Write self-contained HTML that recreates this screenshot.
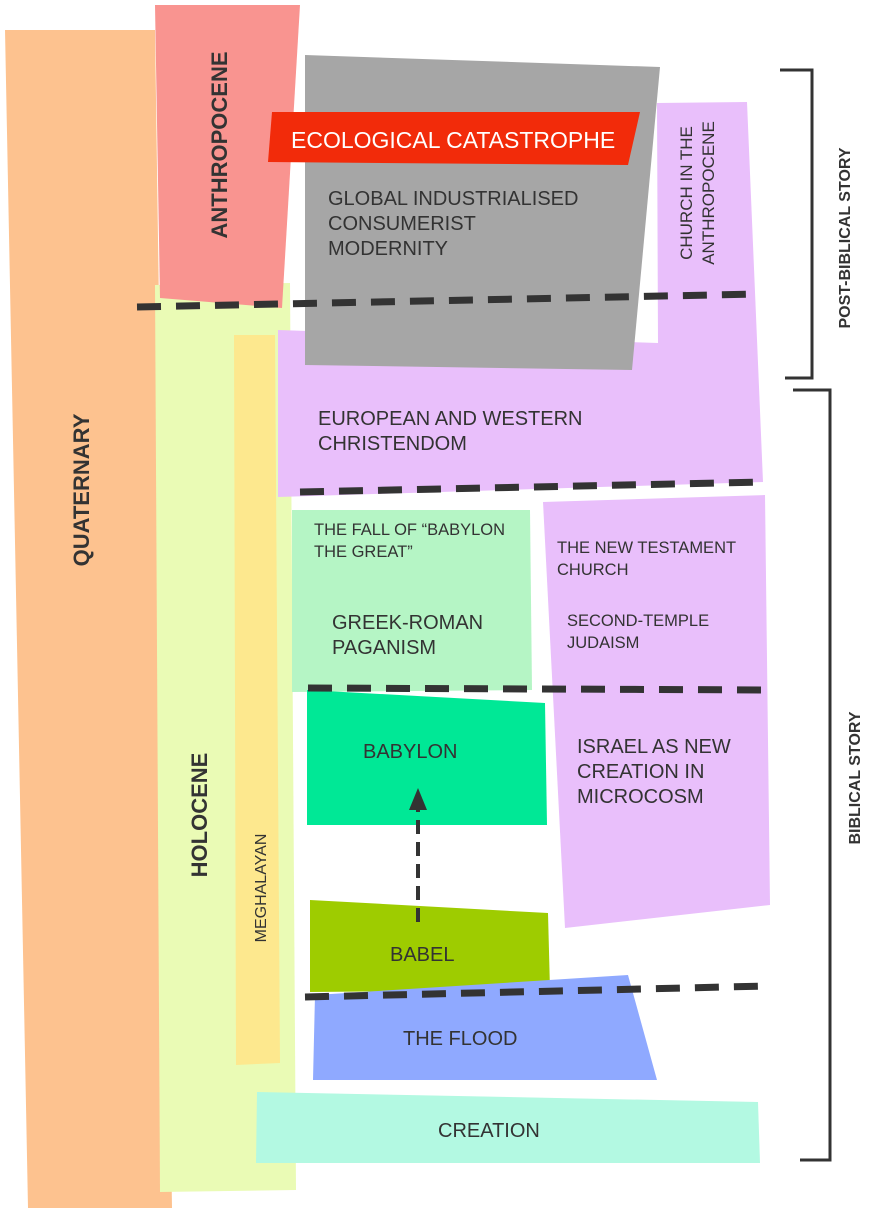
<!DOCTYPE html>
<html><head><meta charset="utf-8"><style>
html,body{margin:0;padding:0;background:#fff;}
svg{display:block;}
text{font-family:"Liberation Sans",Arial,sans-serif;fill:#333;}
</style></head><body>
<svg width="870" height="1214" viewBox="0 0 870 1214" xmlns="http://www.w3.org/2000/svg">
<polygon points="5,30 155,30 172,1208 28,1208" fill="#FDC28F"/>
<polygon points="155,285 290,283 296,1190 160,1192" fill="#EAFBB5"/>
<polygon points="155,5 300,5 282,308 160,298" fill="#F99490"/>
<polygon points="234,335 275,335 280,1063 236,1065" fill="#FDE88E"/>
<polygon points="657,103 747,102 763,482 278,497 278,330 658,343" fill="#E9BFFB"/>
<polygon points="543,502 765,495 770,905 565,928" fill="#E9BFFB"/>
<polygon points="305,55 660,67 632,370 305,365" fill="#A6A6A6"/>
<polygon points="272,112 640,112 628,165 268,162" fill="#F22B0A"/>
<polygon points="292,510 530,510 532,690 292,692" fill="#B5F5C5"/>
<polygon points="307,690 545,703 547,825 307,825" fill="#00E896"/>
<polygon points="310,900 548,913 550,990 310,992" fill="#9ECC00"/>
<polygon points="315,995 628,975 657,1080 313,1080" fill="#8FA9FF"/>
<polygon points="257,1092 758,1102 760,1163 256,1163" fill="#B3F9E2"/>
<g stroke="#333" stroke-width="7" stroke-dasharray="24 15" fill="none">
<line x1="137" y1="307" x2="760" y2="294"/>
<line x1="300" y1="492" x2="765" y2="482"/>
<line x1="308" y1="688" x2="772" y2="690"/>
<line x1="305" y1="997" x2="768" y2="986"/>
</g>
<line x1="418" y1="922" x2="418" y2="808" stroke="#333" stroke-width="4" stroke-dasharray="14 8"/>
<polygon points="409,810 427,810 418,788" fill="#333"/>
<g stroke="#333" stroke-width="3" fill="none">
<polyline points="780,70 812,70 812,378 785,378"/>
<polyline points="793,390 830,390 830,1160 800,1160"/>
</g>
<g font-weight="bold">
<text transform="translate(89,490) rotate(-90)" text-anchor="middle" font-size="22">QUATERNARY</text>
<text transform="translate(227,145) rotate(-90)" text-anchor="middle" font-size="22">ANTHROPOCENE</text>
<text transform="translate(207,815) rotate(-90)" text-anchor="middle" font-size="22">HOLOCENE</text>
<text transform="translate(850,238) rotate(-90)" text-anchor="middle" font-size="16">POST-BIBLICAL STORY</text>
<text transform="translate(860,778) rotate(-90)" text-anchor="middle" font-size="16">BIBLICAL STORY</text>
</g>
<text transform="translate(266,888) rotate(-90)" text-anchor="middle" font-size="16">MEGHALAYAN</text>
<text transform="translate(692,193) rotate(-90)" text-anchor="middle" font-size="17">CHURCH IN THE</text>
<text transform="translate(714,193) rotate(-90)" text-anchor="middle" font-size="17">ANTHROPOCENE</text>
<text x="291" y="148" font-size="23" style="fill:#fff">ECOLOGICAL CATASTROPHE</text>
<g font-size="20">
<text x="328" y="205">GLOBAL INDUSTRIALISED</text>
<text x="328" y="230">CONSUMERIST</text>
<text x="328" y="255">MODERNITY</text>
<text x="318" y="425">EUROPEAN AND WESTERN</text>
<text x="318" y="450">CHRISTENDOM</text>
<text x="332" y="629">GREEK-ROMAN</text>
<text x="332" y="654">PAGANISM</text>
<text x="363" y="758">BABYLON</text>
<text x="577" y="753">ISRAEL AS NEW</text>
<text x="577" y="778">CREATION IN</text>
<text x="577" y="803">MICROCOSM</text>
<text x="390" y="961">BABEL</text>
<text x="403" y="1045">THE FLOOD</text>
<text x="438" y="1137">CREATION</text>
</g>
<g font-size="16.5">
<text x="314" y="535">THE FALL OF “BABYLON</text>
<text x="314" y="557">THE GREAT”</text>
<text x="557" y="553">THE NEW TESTAMENT</text>
<text x="557" y="575">CHURCH</text>
<text x="567" y="626">SECOND-TEMPLE</text>
<text x="567" y="648">JUDAISM</text>
</g>
</svg>
</body></html>
